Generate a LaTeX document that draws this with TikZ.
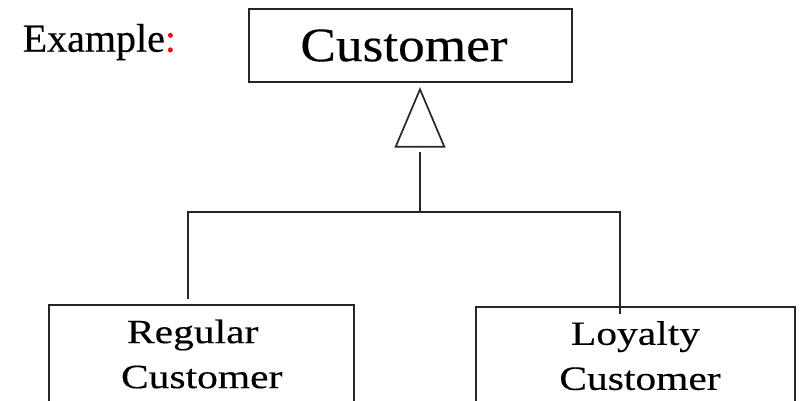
\documentclass[tikz,border=0pt]{standalone}
\usepackage{fontspec}
\setmainfont[FakeBold=0.3]{Liberation Serif}
\newfontfamily\topserif[FakeStretch=1.11,FakeBold=0.3]{Liberation Serif}
\newfontfamily\lowserif[FakeStretch=1.22,FakeBold=0.3]{Liberation Serif}
\definecolor{linegray}{HTML}{262626}
\begin{document}
\begin{tikzpicture}[x=1pt,y=-1pt,
  box/.style={draw=linegray, line width=2pt, inner sep=0pt, align=center},
  conn/.style={draw=linegray, line width=2pt},
  lowtext/.style={font=\lowserif\fontsize{34}{45}\selectfont}]
\useasboundingbox (0,0) rectangle (805,400);
\fill[white] (0,0) rectangle (805,400);

\node[inner sep=0pt, anchor=base west, font=\fontsize{40}{40}\selectfont] (example) at (22.5,51.7) {Example\textcolor{red}{:}};

\node[box, minimum width=322.4pt, minimum height=72.4pt, font=\topserif\fontsize{48}{48}\selectfont] (cust) at (410.5,45.5) {Customer\hspace{13pt}};

\node[box, lowtext, minimum width=304.7pt, minimum height=98pt] (regular) at (201.7,354) {Regular\hspace*{18pt}\\Customer};
\node[box, lowtext, minimum width=319pt, minimum height=98pt] (loyalty) at (635.5,355.7) {Loyalty\\\hspace*{9pt}Customer};

\coordinate (apex) at (420,89.3);
\coordinate (bl) at (395.7,146.7);
\coordinate (br) at (444.3,146.7);
\draw[conn, line width=1.7pt] (apex) -- (bl) -- (br) -- cycle;

\coordinate (stemtop) at (420,151.7);
\coordinate (junction) at (420,212.3);
\coordinate (jl) at (187.7,212.3);
\coordinate (jr) at (620,212.3);
\coordinate (regtop) at (187.7,299.3);
\coordinate (loytop) at (620,314);
\draw[conn] (stemtop) -- (junction);
\draw[conn] (regtop) -- (jl) -- (jr) -- (loytop);
\end{tikzpicture}
\end{document}
